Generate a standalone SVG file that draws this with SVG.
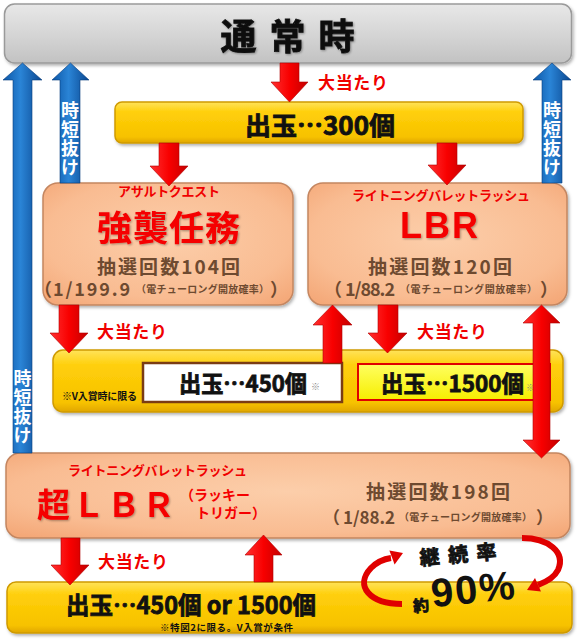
<svg xmlns="http://www.w3.org/2000/svg" width="577" height="640" viewBox="0 0 577 640">
<defs>
<linearGradient id="grayG" x1="0" y1="0" x2="0" y2="1"><stop offset="0" stop-color="#e8e8e8"/><stop offset="0.6" stop-color="#d2d2d2"/><stop offset="1" stop-color="#c2c2c2"/></linearGradient>
<linearGradient id="yelG" x1="0" y1="0" x2="0" y2="1"><stop offset="0" stop-color="#ffe35a"/><stop offset="0.25" stop-color="#ffcf0a"/><stop offset="0.85" stop-color="#f7c200"/><stop offset="1" stop-color="#e0a600"/></linearGradient>
<radialGradient id="peachG" cx="0.5" cy="0.45" r="0.7"><stop offset="0" stop-color="#fcceaa"/><stop offset="0.7" stop-color="#f9bc92"/><stop offset="1" stop-color="#f4a878"/></radialGradient>
<linearGradient id="y2G" x1="0" y1="0" x2="0" y2="1"><stop offset="0" stop-color="#ffff60"/><stop offset="1" stop-color="#f6ee00"/></linearGradient>
<linearGradient id="redG" x1="0" y1="0" x2="1" y2="0"><stop offset="0" stop-color="#ff3030"/><stop offset="0.5" stop-color="#f80000"/><stop offset="1" stop-color="#c40000"/></linearGradient>
<linearGradient id="blueG" x1="0" y1="0" x2="1" y2="0"><stop offset="0" stop-color="#0c56a6"/><stop offset="0.45" stop-color="#2a84d6"/><stop offset="1" stop-color="#0a4790"/></linearGradient>
<filter id="sh" x="-5%" y="-10%" width="110%" height="130%"><feDropShadow dx="1.5" dy="2" stdDeviation="1.5" flood-color="#000" flood-opacity="0.3"/></filter>
<filter id="tsh" x="-10%" y="-20%" width="120%" height="140%"><feDropShadow dx="1" dy="1" stdDeviation="0.8" flood-color="#000" flood-opacity="0.35"/></filter>
</defs>
<style>
text{font-family:"Noto Sans CJK JP","Noto Sans",sans-serif;font-weight:bold}
.lat{font-family:"Liberation Sans",Arial,sans-serif;font-weight:bold}
.red{fill:#f50000}
.brn{fill:#6e4a30}
.blk{fill:#111}
.heavy{fill:#111;stroke:#111;stroke-width:0.8}
.wht{fill:#fff;font-size:18px;writing-mode:vertical-rl;letter-spacing:1px}
.peach{fill:url(#peachG);stroke:#c48660;stroke-width:1.5}
.yel{fill:url(#yelG);stroke:#cf9a00;stroke-width:1.5}
.ra{fill:url(#redG);stroke:#b00000;stroke-width:0.6}
.ba{fill:url(#blueG);stroke:#083c7c;stroke-width:0.6}
.lbl{fill:#f00000;font-size:17px}
.kana{fill:#f00000;font-size:13px}
.note{fill:#888;font-size:9px}
</style>

<g id="node-normal">
<rect x="4.5" y="4" width="567" height="59" rx="10" fill="url(#grayG)" stroke="#9a9a9a" stroke-width="1.5" filter="url(#sh)"/>
<text x="294" y="50" text-anchor="middle" font-size="36" letter-spacing="13" class="heavy" filter="url(#tsh)">通常時</text>
</g>

<g id="node-300">
<rect x="115" y="102" width="408" height="41" rx="7" class="yel" filter="url(#sh)"/>
<text x="320" y="135" text-anchor="middle" font-size="25" class="heavy" textLength="150" lengthAdjust="spacingAndGlyphs">出玉…300個</text>
</g>

<g id="node-assault">
<rect x="43" y="183" width="250" height="122" rx="15" class="peach" filter="url(#sh)"/>
<text x="169" y="196" text-anchor="middle" class="kana" textLength="102">アサルトクエスト</text>
<text x="168.5" y="241" text-anchor="middle" font-size="35" class="red" textLength="143" filter="url(#tsh)">強襲任務</text>
<text x="168.5" y="274" text-anchor="middle" font-size="19" class="brn" textLength="143">抽選回数104回</text>
<text x="34" y="296" font-size="18" class="brn">（</text>
<text x="53" y="296" font-size="18" class="brn" textLength="77">1/199.9</text>
<text x="136" y="293" font-size="10" class="brn" textLength="133">（電チューロング開放確率）</text>
<text x="270" y="296" font-size="18" class="brn">）</text>
</g>

<g id="node-lbr">
<rect x="308" y="183" width="259" height="122" rx="15" class="peach" filter="url(#sh)"/>
<text x="441" y="200" text-anchor="middle" class="kana" textLength="178">ライトニングバレットラッシュ</text>
<text x="439" y="238" text-anchor="middle" font-size="36" class="lat red" textLength="78" filter="url(#tsh)">LBR</text>
<text x="440" y="274" text-anchor="middle" font-size="19" class="brn" textLength="144">抽選回数120回</text>
<text x="324" y="296" font-size="18" class="brn">（</text>
<text x="345" y="296" font-size="18" class="brn" textLength="50">1/88.2</text>
<text x="400" y="293" font-size="10" class="brn" textLength="137">（電チューロング開放確率）</text>
<text x="540" y="296" font-size="18" class="brn">）</text>
</g>

<g id="node-mid">
<rect x="53" y="350" width="510" height="62" rx="10" class="yel" filter="url(#sh)"/>
<text x="62" y="400" font-size="10" class="blk" textLength="75">※V入賞時に限る</text>
<rect x="143" y="363" width="199" height="39" fill="#fff" stroke="#7a3c14" stroke-width="2.5"/>
<text x="179" y="391.5" font-size="23" class="heavy" textLength="128" lengthAdjust="spacingAndGlyphs">出玉…450個</text>
<text x="311" y="390" class="note">※</text>
<rect x="358" y="364" width="192" height="36" fill="url(#y2G)" stroke="#e00000" stroke-width="2"/>
<text x="381" y="391.5" font-size="23" class="heavy" textLength="143" lengthAdjust="spacingAndGlyphs">出玉…1500個</text>
<text x="526" y="391" class="note">※</text>
</g>

<g id="node-super">
<rect x="6" y="453" width="564" height="85" rx="14" class="peach" filter="url(#sh)"/>
<text x="157.5" y="474.5" text-anchor="middle" class="kana" textLength="179">ライトニングバレットラッシュ</text>
<text x="37" y="517" font-size="33" class="red" textLength="138" filter="url(#tsh)">超ＬＢＲ</text>
<text x="180" y="500" font-size="14" class="red">（ラッキー</text>
<text x="196" y="518" font-size="14" class="red">トリガー）</text>
<text x="438" y="499" text-anchor="middle" font-size="19" class="brn" textLength="144">抽選回数198回</text>
<text x="323" y="524" font-size="17" class="brn">（</text>
<text x="343" y="524" font-size="17" class="brn" textLength="52">1/88.2</text>
<text x="399" y="521" font-size="10" class="brn" textLength="133">（電チューロング開放確率）</text>
<text x="536" y="524" font-size="17" class="brn">）</text>
</g>

<g id="node-bottom">
<rect x="7" y="582" width="565" height="51" rx="9" class="yel" filter="url(#sh)"/>
<text x="66" y="614" font-size="24" class="heavy" textLength="250" lengthAdjust="spacingAndGlyphs">出玉…450個 or 1500個</text>
<text x="160" y="631" font-size="9.5" class="blk" textLength="133">※特図2に限る。V入賞が条件</text>
</g>

<g id="connectors">
<path class="ba" d="M13 453 V80 H3 L22.5 63 L42 80 H32 V453 Z"/>
<path class="ba" d="M60 183 V80 H52 L70.5 63 L89 80 H80 V183 Z"/>
<path class="ba" d="M542 183 V80 H533 L552 63 L571 80 H562 V183 Z"/>
<path class="ra" d="M280 63 H299 V82 H308 L289.5 102 L271 82 H280 Z"/>
<path class="ra" d="M159 143 H179 V166 H188 L169 186 L150 166 H159 Z"/>
<path class="ra" d="M437 143 H457 V165 H466 L447 185 L428 165 H437 Z"/>
<path class="ra" d="M59 305 H79 V333 H88 L69 353 L50 333 H59 Z"/>
<path class="ra" d="M378 305 H398 V333 H407 L387.5 353 L368 333 H378 Z"/>
<path class="ra" d="M323 363 V325 H313 L332.5 305 L352 325 H342 V363 Z"/>
<path class="ra" d="M533 323 H523 L541.5 305 L560 323 H550 V440 H560 L541.5 458 L523 440 H533 Z"/>
<path class="ra" d="M61 538 H80 V565 H89 L70 585 L51 565 H61 Z"/>
<path class="ra" d="M254 582 V555 H245 L263.5 535 L282 555 H273 V582 Z"/>
<path d="M402 604 C370 604 354 586 371 568 C377 562 384 559 391 558" fill="none" stroke="#e00000" stroke-width="6"/>
<polygon points="403,553 394.6,564.5 389.4,550.5" fill="#e00000"/>
<path d="M522 538 C548 538 566 552 558 570 C554 578 546 582 538 585" fill="none" stroke="#e00000" stroke-width="6"/>
<polygon points="527,590 541,591.5 535,578" fill="#e00000"/>
</g>

<g id="labels">
<text class="wht" x="22.5" y="369">時短抜け</text>
<text class="wht" x="70" y="101">時短抜け</text>
<text class="wht" x="552" y="101">時短抜け</text>
<text x="318" y="89" class="lbl" textLength="70">大当たり</text>
<text x="97" y="338" class="lbl" textLength="70">大当たり</text>
<text x="417" y="338" class="lbl" textLength="70">大当たり</text>
<text x="98" y="568" class="lbl" textLength="70">大当たり</text>
<text x="458" y="562" text-anchor="middle" font-size="20" class="heavy" textLength="77" transform="rotate(-5 458 555)">継続率</text>
<g transform="rotate(-6 463 592)">
<text x="412" y="607" font-size="16" class="heavy">約</text>
<text x="431" y="604" font-size="40" class="lat blk" textLength="84">90%</text>
</g>
</g>
</svg>
